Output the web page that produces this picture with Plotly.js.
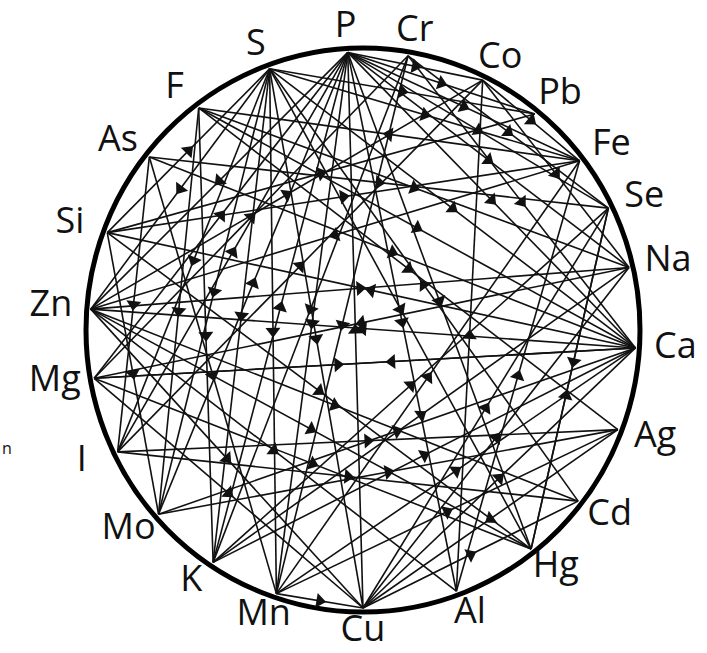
<!DOCTYPE html>
<html><head><meta charset="utf-8">
<script src="https://cdn.plot.ly/plotly-3.0.1.min.js"></script>
<style>html,body{margin:0;padding:0;background:#fff}#chart{width:707px;height:653px}</style>
</head><body><div id="chart"></div>
<script>
// Nodes (elements) and their angular placement on the ring (degrees, clockwise from top)
const elements = ["P","Cr","Co","Pb","Fe","Se","Na","Ca","Ag","Cd","Hg","Al","Cu","Mn","K","Mo","I","Mg","Zn","Si","As","F","S"];
const elementAngle = [-3.2, 9.5, 26, 39, 52.5, 64, 77, 93.7, 111, 128, 142, 160, 180, 198.5, 213.3, 228.5, 244, 260, 274.3, 290.5, 308.5, 323, 340];

// Directed links (source -> target)
const source = ["Cu","Mo","P","P","P","P","P","P","K","P","P","P","I","P","Mg",
  "S","S","S","Cd","S","S","S","S","S","Si","S","S",
  "Fe","F","F","F","F","As","As","As","As",
  "Ca","Si","Cr","Si","Si","Si",
  "Ca","Zn","Zn","Zn","Zn","Zn","Zn","Fe",
  "Mg","Ca","Mg","Mg","Mg","Co",
  "I","I","I","Mo","Mo","K","K","K",
  "Mn","Mn","Mn","Mn","Ag","Cu","Cu","Cu","Cu",
  "Al","Al","Se","Hg","Cr","Cr","Cr","Na","F","Co"];
const target = ["P","P","Al","Co","Fe","Ca","Se","Hg","P","Zn","Mn","Na","P","Pb","P",
  "Cu","Ca","Pb","S","Fe","K","Mo","Mn","Zn","S","I","Hg",
  "F","Mo","Na","K","Ca","Se","Ca","Mn","I",
  "Si","Fe","Se","Hg","Pb","Mo",
  "Zn","Na","Al","Cu","Hg","Cd","Co","Zn",
  "Ca","Mg","Hg","Cu","Cr","Na",
  "Ag","Cd","Co","Ca","Ag","Ca","Se","Na",
  "Cu","Fe","Ag","Ca","Cu","Cd","Se","Na","Ca",
  "Fe","Co","Hg","Se","K","Mn","Ca","Mg","Ag","Fe"];

// ---- geometry (pixel-like data space) ----
const W = 707, H = 653;
const cx = 363, cy = 330;
const nodeRx = 273, nodeRy = 278;
const ringRx = 277, ringRy = 282;
const labRx = 313, labRy = 302;
const rad = d => d * Math.PI / 180;
const pos = {};
elements.forEach((e, i) => {
  const a = rad(elementAngle[i]);
  pos[e] = [cx + nodeRx * Math.sin(a), cy - nodeRy * Math.cos(a)];
});

const lx = [], ly = [], ax = [], ay = [], aang = [];
const key = (a, b) => a + ">" + b;
const edgeSet = new Set(source.map((s, i) => key(s, target[i])));
source.forEach((s, i) => {
  const t = target[i];
  const p = pos[s], q = pos[t];
  lx.push(p[0], q[0], null); ly.push(p[1], q[1], null);
  const f = edgeSet.has(key(t, s)) ? 0.45 : 0.5;
  ax.push(p[0] + (q[0] - p[0]) * f);
  ay.push(p[1] + (q[1] - p[1]) * f);
  aang.push(Math.atan2(q[0] - p[0], -(q[1] - p[1])) * 180 / Math.PI);
});

const labX = elements.map((e, i) => cx + labRx * Math.sin(rad(elementAngle[i])));
const labY = elements.map((e, i) => cy - labRy * Math.cos(rad(elementAngle[i])));

const traces = [
  {x: lx, y: ly, mode: "lines", type: "scatter", hoverinfo: "skip",
   line: {color: "#111", width: 1.6}},
  {x: ax, y: ay, mode: "markers", type: "scatter", hoverinfo: "skip",
   marker: {symbol: "triangle-up", size: 13, color: "#111", angle: aang, line: {width: 0}}},
  {x: labX, y: labY, mode: "text", type: "scatter", text: elements, hoverinfo: "skip",
   textposition: "middle center", cliponaxis: false,
   textfont: {family: "Open Sans, Noto Sans, sans-serif", size: 36, color: "#111"}},
  {x: [7], y: [450], mode: "text", type: "scatter", text: ["n"], hoverinfo: "skip",
   textposition: "middle center", cliponaxis: false,
   textfont: {family: "Open Sans, sans-serif", size: 16, color: "#111"}}
];

const layout = {
  width: W, height: H,
  margin: {l: 0, r: 0, t: 0, b: 0},
  paper_bgcolor: "#fff", plot_bgcolor: "#fff",
  showlegend: false,
  xaxis: {range: [0, W], visible: false, fixedrange: true},
  yaxis: {range: [H, 0], visible: false, fixedrange: true},
  shapes: [{type: "circle", xref: "x", yref: "y",
    x0: cx - ringRx, x1: cx + ringRx, y0: cy - ringRy, y1: cy + ringRy,
    line: {color: "#000", width: 5}, layer: "below"}]
};

Plotly.newPlot("chart", traces, layout, {staticPlot: true, displayModeBar: false});
</script></body></html>
